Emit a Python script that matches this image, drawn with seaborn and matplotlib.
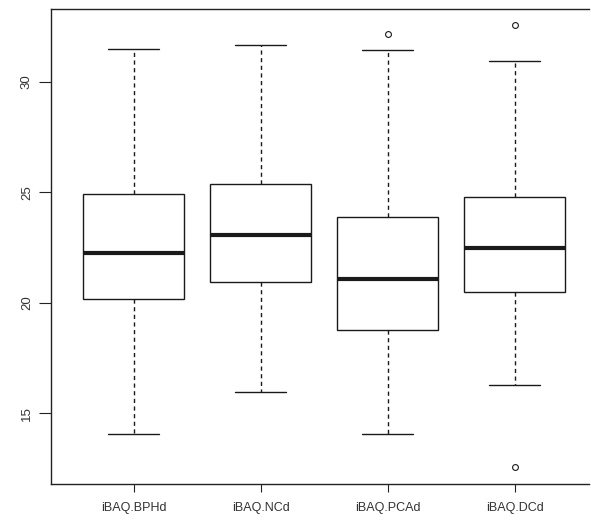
import numpy as np
import pandas as pd
import matplotlib
matplotlib.use("Agg")
import matplotlib.pyplot as plt
import seaborn as sns

# ---- data (box-plot summary per group) ----
groups = ["iBAQ.BPHd", "iBAQ.NCd", "iBAQ.PCAd", "iBAQ.DCd"]
whisker_low = [14.04, 15.94, 14.04, 16.29]
q1 = [20.15, 20.95, 18.76, 20.47]
median = [22.24, 23.05, 21.07, 22.46]
q3 = [24.91, 25.36, 23.87, 24.80]
whisker_high = [31.49, 31.66, 31.44, 30.94]
outliers_low = [[], [], [], [12.57]]
outliers_high = [[], [], [32.16], [32.58]]
y_ticks = [15, 20, 25, 30]

# Build samples whose quartiles reproduce the summaries above
rows = []
for i, g in enumerate(groups):
    n_out = len(outliers_low[i]) + len(outliers_high[i])
    if n_out == 0:
        vals = [whisker_low[i], q1[i], median[i], q3[i], whisker_high[i]]
    elif n_out == 1:
        vals = outliers_low[i] + [whisker_low[i], q1[i], q1[i], median[i], median[i],
                                  q3[i], q3[i], whisker_high[i]] + outliers_high[i]
    else:
        vals = outliers_low[i] + [whisker_low[i], q1[i], q1[i], median[i],
                                  q3[i], q3[i], whisker_high[i]] + outliers_high[i]
    for v in vals:
        rows.append({"group": g, "value": v})
df = pd.DataFrame(rows)

sns.set_style("white")
plt.rcParams["font.family"] = ["Liberation Sans", "DejaVu Sans"]

fig = plt.figure(figsize=(5.91, 5.22), dpi=100)
ax = fig.add_axes([51 / 591, (522 - 484.3) / 522, 589 / 591 - 51 / 591, (484.3 - 9) / 522])

ink = "#1a1a1a"
sns.boxplot(
    data=df, x="group", y="value", order=groups, ax=ax,
    color="white", linecolor=ink, width=0.8, linewidth=1.0, whis=1.5,
    medianprops={"linewidth": 3.0, "color": ink, "solid_capstyle": "butt"},
    whiskerprops={"linestyle": (0, (3, 2.5)), "linewidth": 1.0, "color": ink},
    capprops={"linewidth": 1.0, "color": ink},
    flierprops={"marker": "o", "markerfacecolor": "none", "markeredgecolor": ink,
                "markersize": 4.2, "markeredgewidth": 0.8},
    capwidths=0.4,
)

ax.set_xlim(-0.65, 3.586)
ax.set_ylim(11.78, 33.30)
ax.set_yticks(y_ticks)
ax.set_yticklabels([str(t) for t in y_ticks], rotation=90, va="center")
ax.set_xlabel("")
ax.set_ylabel("")

for side in ["left", "bottom", "top"]:
    ax.spines[side].set_visible(True)
    ax.spines[side].set_color("#222222")
    ax.spines[side].set_linewidth(1.0)
ax.spines["right"].set_visible(False)

ax.tick_params(axis="y", length=9, width=0.8, color="#222222", pad=4,
               labelsize=9.5, labelcolor="#333333", left=True, right=False)
ax.tick_params(axis="x", length=6, width=0.8, color="#222222", pad=7,
               labelsize=9, labelcolor="#333333", bottom=True, top=False)

fig.savefig("out.png", dpi=100, facecolor="white")
